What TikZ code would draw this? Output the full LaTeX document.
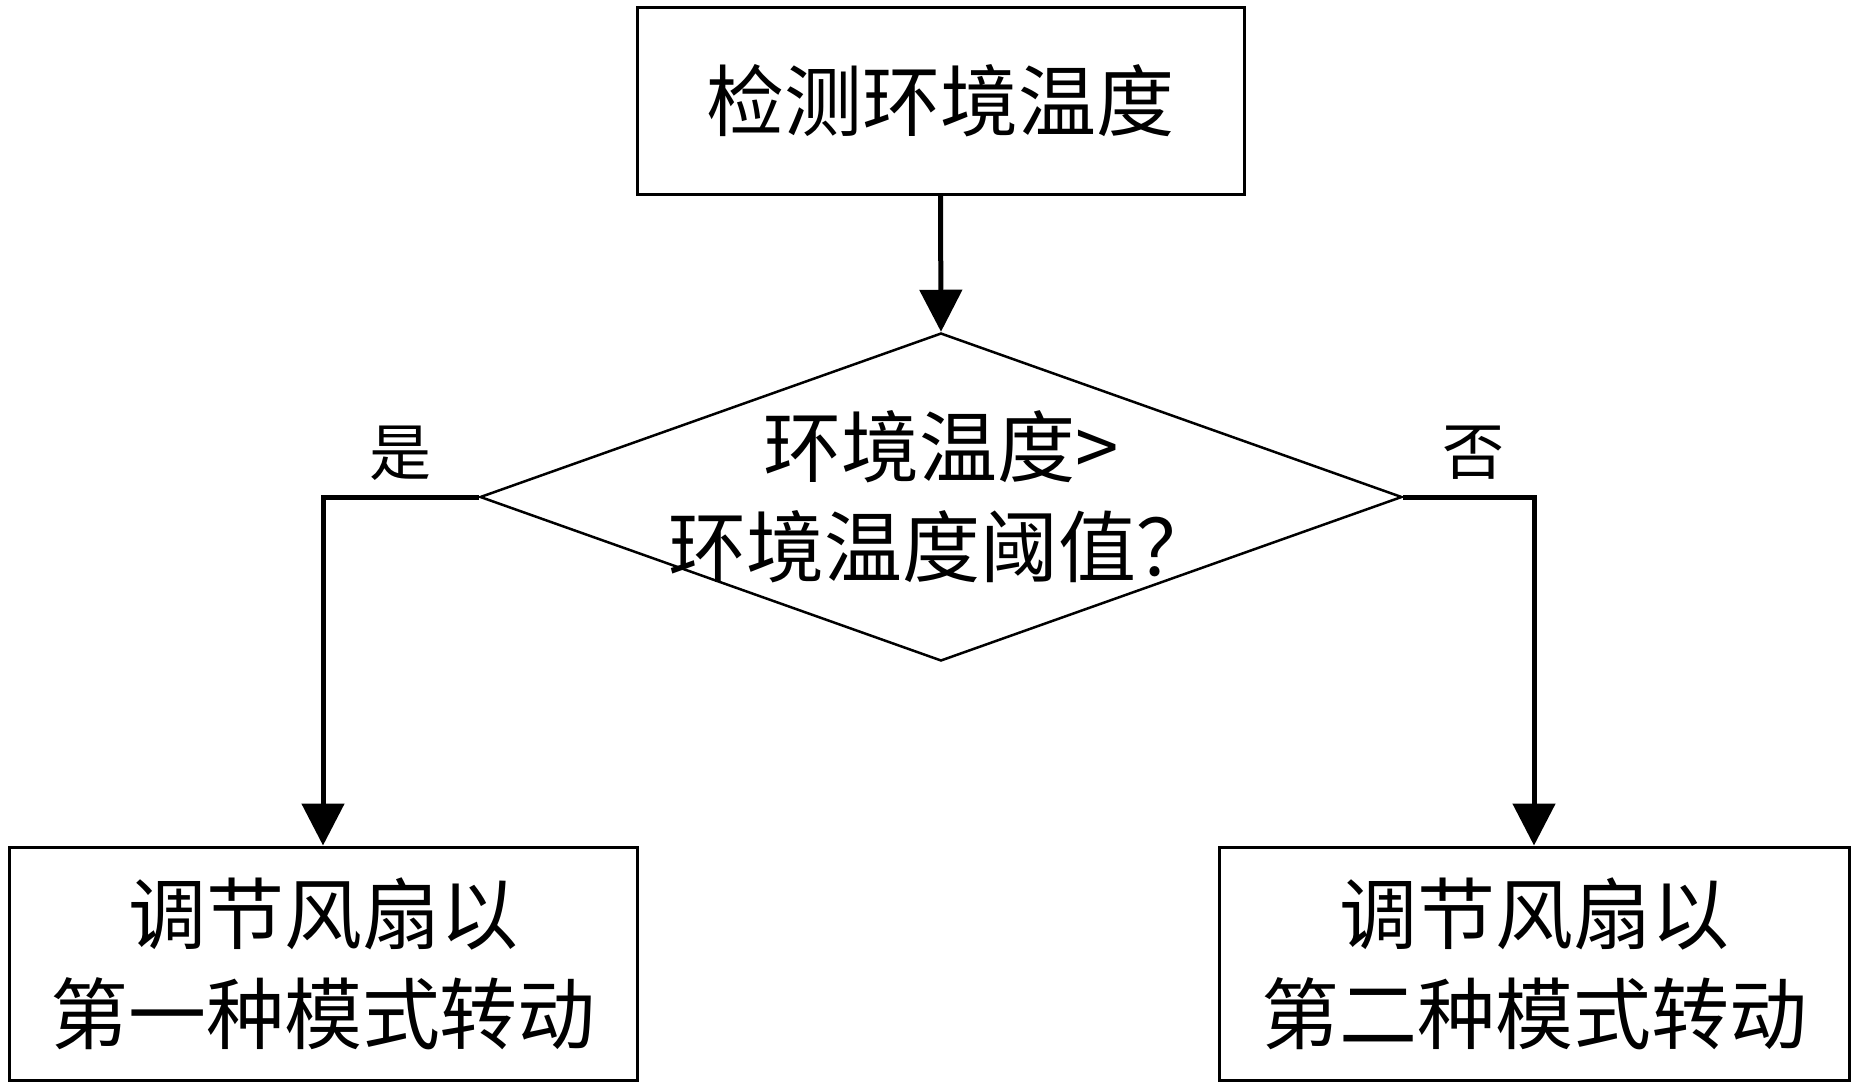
\documentclass[tikz,border=0pt]{standalone}
\usepackage{fontspec}
\newfontfamily\cjk{Noto Sans CJK SC}
\usetikzlibrary{shapes.geometric,arrows.meta}
\begin{document}
\begin{tikzpicture}[x=1pt,y=-1pt,
  boxnode/.style={draw, line width=3pt, rectangle, inner sep=0pt},
  decnode/.style={draw, line width=2.5pt, diamond, inner sep=0pt},
  txt/.style={font=\cjk\fontsize{78}{100}\selectfont, align=center, inner sep=0pt},
  lbl/.style={font=\cjk\fontsize{62}{70}\selectfont, inner sep=0pt},
  conn/.style={line width=5pt, -{Triangle[width=42pt,length=42pt]}}]
\fill[white] (0,0) rectangle (1856,1088);
\useasboundingbox (0,0) rectangle (1856,1088);

\node[boxnode, minimum width=607pt, minimum height=187pt] (top) at (940.5,100.5) {};
\node[txt] (toptext) at (top.center) {检测环境温度};

\node[decnode, minimum width=922pt, minimum height=328pt] (dia) at (941,497) {};
\node[txt] (diatext) at (dia.center) {环境温度>\\环境温度阈值？};

\node[boxnode, minimum width=628pt, minimum height=233pt] (left) at (323,963.5) {};
\node[txt] (lefttext) at (left.center) {调节风扇以\\第一种模式转动};

\node[boxnode, minimum width=630pt, minimum height=233pt] (right) at (1534,963.5) {};
\node[txt] (righttext) at (right.center) {调节风扇以\\第二种模式转动};

\draw[conn] (top.south) -- (dia.north);
\draw[conn] (dia.west) -| (left.north);
\draw[conn] (dia.east) -| (right.north);

\node[lbl] (yes) at (400,453) {是};
\node[lbl] (no) at (1473,453) {否};
\end{tikzpicture}
\end{document}
